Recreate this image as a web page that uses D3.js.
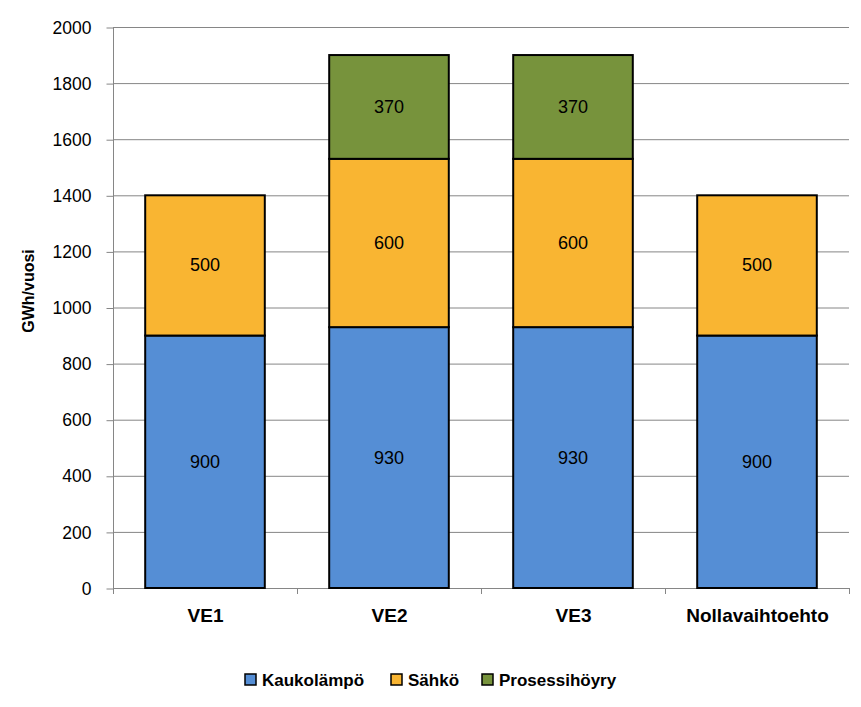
<!DOCTYPE html>
<html><head><meta charset="utf-8">
<script src="https://cdn.jsdelivr.net/npm/d3@7"></script>
<style>body{margin:0;background:#fff}svg{display:block}text{font-family:"Liberation Sans",Arial,sans-serif}</style>
</head><body>
<svg id="c" width="861" height="707"></svg>
<script>
const categories = ["VE1", "VE2", "VE3", "Nollavaihtoehto"];
const seriesNames = ["Kaukolämpö", "Sähkö", "Prosessihöyry"];
const kaukolampo = [900, 930, 930, 900];
const sahko = [500, 600, 600, 500];
const prosessihoyry = [0, 370, 370, 0];
const yTicks = [0, 200, 400, 600, 800, 1000, 1200, 1400, 1600, 1800, 2000];
const colors = ["#558ED5", "#F9B532", "#77933C"];
const yTitle = "GWh/vuosi";

const svg = d3.select("#c");
const m = {l: 113, r: 849, t: 27, b: 588};
const x = d3.scaleBand().domain(categories).range([m.l, m.r]).paddingInner(0.35).paddingOuter(0.175);
const xb = d3.scaleBand().domain(categories).range([m.l, m.r]);
const y = d3.scaleLinear().domain([0, 2000]).range([m.b, m.t]);

// gridlines
svg.append("g").selectAll("line").data(yTicks.slice(1)).join("line")
  .attr("x1", m.l).attr("x2", m.r).attr("y1", d => y(d) + 0.5).attr("y2", d => y(d) + 0.5)
  .attr("stroke", "#868686").attr("stroke-width", 1);

// y axis
const ya = svg.append("g").attr("transform", `translate(${m.l + 0.5},0.5)`)
  .call(d3.axisLeft(y).tickValues(yTicks).tickSize(7).tickPadding(15).tickFormat(d3.format("d")));
ya.select(".domain").attr("stroke", "#868686").attr("d", `M0,${m.t}V${m.b}`);
ya.selectAll(".tick line").attr("stroke", "#868686");
ya.selectAll("text").attr("font-size", 17.5).attr("fill", "#000").attr("font-family", "Liberation Sans, Arial");

// x axis
const xa = svg.append("g").attr("transform", `translate(0.5,${m.b + 0.5})`)
  .call(d3.axisBottom(xb).tickSize(0).tickPadding(20));
xa.select(".domain").attr("stroke", "#868686").attr("d", `M${m.l},0H${m.r}`);
xa.selectAll("text").attr("font-size", 19).attr("font-weight", "bold").attr("fill", "#000").attr("font-family", "Liberation Sans, Arial");
svg.append("g").selectAll("line").data(categories.map((c, i) => m.l + xb.step() * i).concat([m.r])).join("line")
  .attr("x1", d => d + 0.5).attr("x2", d => d + 0.5).attr("y1", m.b).attr("y2", m.b + 6)
  .attr("stroke", "#868686");

// stacked bars
const data = categories.map((c, i) => ({cat: c, "Kaukolämpö": kaukolampo[i], "Sähkö": sahko[i], "Prosessihöyry": prosessihoyry[i]}));
const stack = d3.stack().keys(seriesNames)(data);
stack.forEach((s, si) => {
  const g = svg.append("g");
  s.forEach(d => {
    const v = d[1] - d[0];
    if (v <= 0) return;
    g.append("rect").attr("x", x(d.data.cat)).attr("width", x.bandwidth())
      .attr("y", y(d[1])).attr("height", y(d[0]) - y(d[1]))
      .attr("fill", colors[si]).attr("stroke", "#000").attr("stroke-width", 2);
    g.append("text").attr("x", x(d.data.cat) + x.bandwidth() / 2).attr("y", y((d[0] + d[1]) / 2))
      .attr("text-anchor", "middle").attr("dominant-baseline", "central")
      .attr("font-size", 18).attr("fill", "#000").text(v);
  });
});

// y title
svg.append("text").attr("transform", "translate(34,291) rotate(-90)")
  .attr("text-anchor", "middle").attr("font-size", 16).attr("font-weight", "bold").text(yTitle);

// legend
const legX = [245, 391, 482];
const lg = svg.append("g");
seriesNames.forEach((n, i) => {
  lg.append("rect").attr("x", legX[i]).attr("y", 674).attr("width", 11).attr("height", 11)
    .attr("fill", colors[i]).attr("stroke", "#000").attr("stroke-width", 1.5);
  lg.append("text").attr("x", legX[i] + 17).attr("y", 686).attr("font-size", 17).attr("font-weight", "bold").text(n);
});
</script>
</body></html>
